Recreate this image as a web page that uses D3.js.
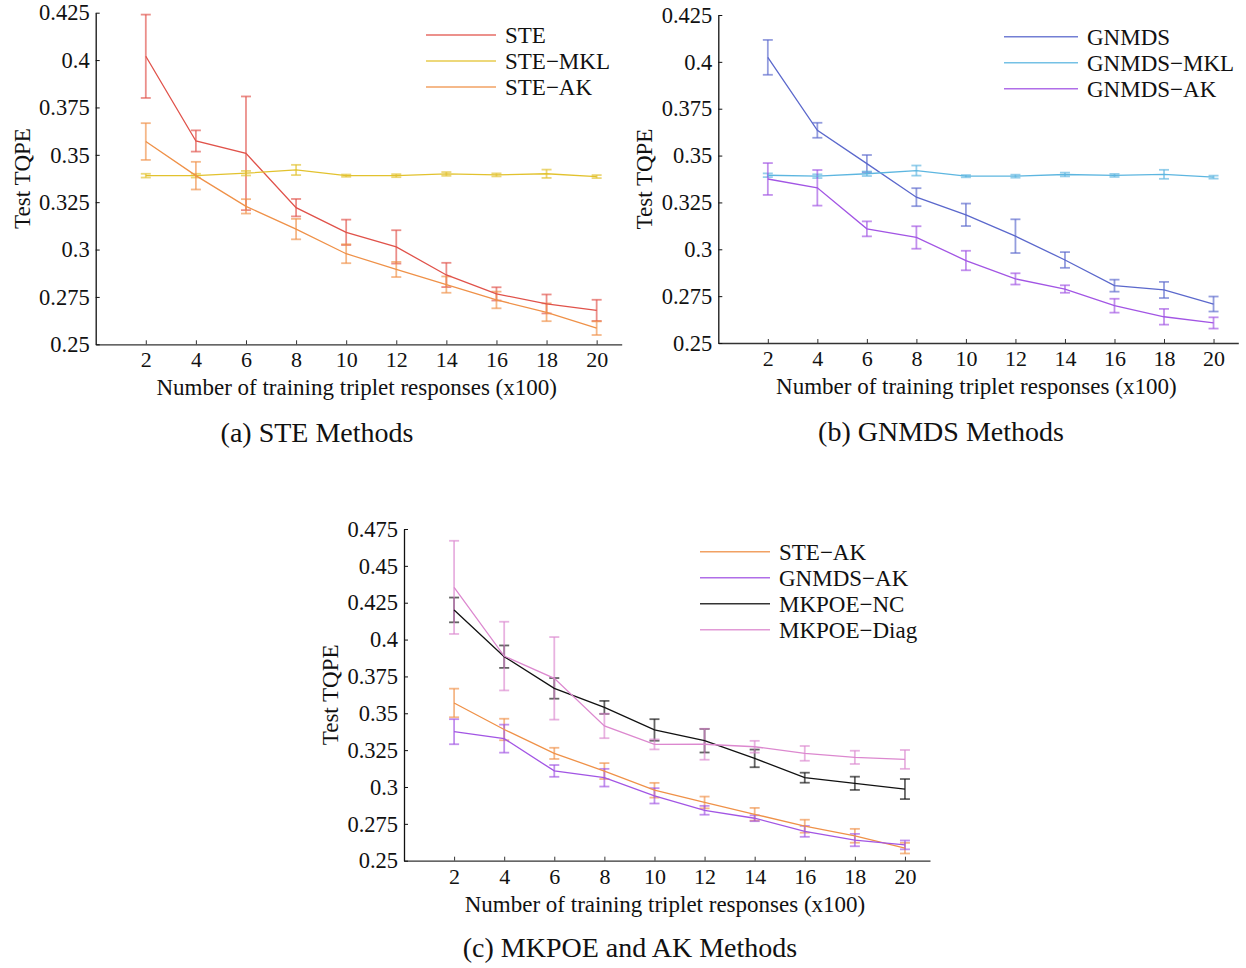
<!DOCTYPE html>
<html>
<head>
<meta charset="utf-8">
<script src="https://cdn.jsdelivr.net/npm/d3@7"></script>
<style>
	body { margin: 0; background: #fff; }
	svg { display: block; }
	text { font-family: 'Liberation Serif', 'Times New Roman', serif; fill: #111; }
</style>
</head>
<body>
<div id="chart"></div>
<script>
/* global d3 */

// x categories (x100 triplets)
var xs = [2, 4, 6, 8, 10, 12, 14, 16, 18, 20];

// (a) STE methods
var steMean    = [0.402, 0.3573, 0.3508, 0.3221, 0.3091, 0.3014, 0.2866, 0.2766, 0.2713, 0.2679];
var steErr     = [0.022, 0.0056, 0.030, 0.0046, 0.0067, 0.0088, 0.0064, 0.0035, 0.0050, 0.0056];
var steMklMean = [0.339, 0.339, 0.3403, 0.342, 0.339, 0.339, 0.3399, 0.3394, 0.340, 0.3385];
var steMklErr  = [0.0010, 0.0010, 0.0012, 0.0027, 0.0006, 0.0008, 0.0010, 0.0008, 0.0022, 0.0008];
var steAkMean  = [0.357, 0.339, 0.3228, 0.3108, 0.2978, 0.2895, 0.2815, 0.2734, 0.2669, 0.2585];
var steAkErr   = [0.0097, 0.0073, 0.0038, 0.0054, 0.0050, 0.0040, 0.0043, 0.0044, 0.0047, 0.0036];

// (b) GNMDS methods
var gnmdsMean    = [0.4024, 0.3635, 0.3457, 0.3278, 0.3184, 0.307, 0.2943, 0.2806, 0.2783, 0.2708];
var gnmdsErr     = [0.0093, 0.0040, 0.0046, 0.0048, 0.0060, 0.0090, 0.0042, 0.0032, 0.0043, 0.0040];
var gnmdsMklMean = [0.3395, 0.339, 0.3403, 0.342, 0.339, 0.339, 0.3399, 0.3394, 0.340, 0.3385];
var gnmdsMklErr  = [0.0010, 0.0010, 0.0012, 0.0027, 0.0006, 0.0008, 0.0010, 0.0008, 0.0024, 0.0008];
var gnmdsAkMean  = [0.3375, 0.3328, 0.3109, 0.3063, 0.294, 0.2842, 0.2788, 0.2699, 0.264, 0.2607];
var gnmdsAkErr   = [0.0085, 0.0095, 0.0040, 0.0060, 0.0052, 0.0030, 0.0020, 0.0037, 0.0042, 0.0030];

// (c) MKPOE
var mkpoeNcMean   = [0.4201, 0.3884, 0.3669, 0.354, 0.3387, 0.3314, 0.3194, 0.3063, 0.3025, 0.2986];
var mkpoeNcErr    = [0.0084, 0.0076, 0.0070, 0.0044, 0.0073, 0.0080, 0.0060, 0.0034, 0.0045, 0.0068];
var mkpoeDiagMean = [0.4354, 0.3888, 0.3737, 0.3414, 0.3289, 0.329, 0.3273, 0.3228, 0.3201, 0.3187];
var mkpoeDiagErr  = [0.0316, 0.0233, 0.0280, 0.0083, 0.0034, 0.0105, 0.0040, 0.0050, 0.0045, 0.0064];

// y tick labels
var yTicksAB = [0.25, 0.275, 0.3, 0.325, 0.35, 0.375, 0.4, 0.425];
var yTicksC  = [0.25, 0.275, 0.3, 0.325, 0.35, 0.375, 0.4, 0.425, 0.45, 0.475];

var colors = {
	ste: '#e0524a', steMkl: '#e2c22e', steAk: '#ef9148',
	gnmds: '#5b68cc', gnmdsMkl: '#5db6e0', gnmdsAk: '#a255e4',
	nc: '#111111', diag: '#dc88cf'
};

var svg = d3.select('#chart').append('svg')
	.attr('width', 1246)
	.attr('height', 968);

function fmt (d) {
	return String(parseFloat(d.toFixed(3)));
}

function drawPanel (p) {
	var x = d3.scaleLinear().domain([0, 21]).range([p.left, p.right]);
	var y = d3.scaleLinear().domain(p.yDomain).range([p.bottom, p.top]);
	var g = svg.append('g');

	// axes, ticks pointing inward
	g.append('g')
		.attr('transform', 'translate(0,' + p.bottom + ')')
		.call(d3.axisBottom(x).tickValues(xs).tickSize(-4).tickSizeOuter(0))
		.call(function (a) {
			a.select('.domain').attr('stroke', '#333').attr('stroke-width', 1.3);
			a.selectAll('.tick line').attr('stroke', '#333');
			a.selectAll('.tick text').attr('font-size', '22px').attr('dy', null).attr('y', 23);
		});

	g.append('g')
		.attr('transform', 'translate(' + p.left + ',0)')
		.call(d3.axisLeft(y).tickValues(p.yTicks).tickFormat(fmt).tickSize(-4).tickSizeOuter(0))
		.call(function (a) {
			a.select('.domain').attr('stroke', '#111').attr('stroke-width', 1.3);
			a.selectAll('.tick line').attr('stroke', '#111');
			a.selectAll('.tick text').attr('font-size', '22.5px').attr('x', -6);
		});

	g.append('text')
		.attr('transform', 'translate(' + (p.left - 66) + ',' + ((p.top + p.bottom) / 2) + ') rotate(-90)')
		.attr('text-anchor', 'middle')
		.attr('font-size', '23px')
		.text('Test TQPE');

	g.append('text')
		.attr('x', (p.left + p.right) / 2 - 2)
		.attr('y', p.bottom + 51)
		.attr('text-anchor', 'middle')
		.attr('font-size', '23px')
		.text('Number of training triplet responses (x100)');

	g.append('text')
		.attr('x', p.titleX)
		.attr('y', p.titleY)
		.attr('text-anchor', 'middle')
		.attr('font-size', '28px')
		.text(p.title);

	var line = d3.line()
		.x(function (d, i) { return x(xs[i]); })
		.y(function (d) { return y(d); });

	p.series.forEach(function (s) {
		var eb = g.append('g')
			.attr('stroke', s.color)
			.attr('stroke-width', 1.8)
			.attr('stroke-opacity', 0.65);
		s.mean.forEach(function (m, i) {
			var cx = x(xs[i]), y0 = y(m - s.err[i]), y1 = y(m + s.err[i]);
			eb.append('line').attr('x1', cx).attr('x2', cx).attr('y1', y0).attr('y2', y1);
			eb.append('line').attr('x1', cx - 5).attr('x2', cx + 5).attr('y1', y0).attr('y2', y0);
			eb.append('line').attr('x1', cx - 5).attr('x2', cx + 5).attr('y1', y1).attr('y2', y1);
		});
	});

	p.series.forEach(function (s) {
		g.append('path')
			.attr('d', line(s.mean))
			.attr('fill', 'none')
			.attr('stroke', s.color)
			.attr('stroke-width', 1.3);
	});

	// legend
	var lg = g.append('g').attr('transform', 'translate(' + p.legend.x + ',' + p.legend.y + ')');
	p.series.forEach(function (s, i) {
		lg.append('line')
			.attr('x1', 0).attr('x2', p.legend.len)
			.attr('y1', i * 26).attr('y2', i * 26)
			.attr('stroke', s.color)
			.attr('stroke-width', 1.5)
			.attr('stroke-opacity', 0.85);
		lg.append('text')
			.attr('x', p.legend.len + 9)
			.attr('y', i * 26 + 8)
			.attr('font-size', '23px')
			.text(s.name);
	});
}

drawPanel({
	left: 95.7, right: 621.7, top: 12.7, bottom: 344.3,
	yDomain: [0.25, 0.425], yTicks: yTicksAB,
	titleX: 317, titleY: 442, title: '(a) STE Methods',
	legend: { x: 426, y: 35, len: 70 },
	series: [
		{ name: 'STE', mean: steMean, err: steErr, color: colors.ste },
		{ name: 'STE\u2212MKL', mean: steMklMean, err: steMklErr, color: colors.steMkl },
		{ name: 'STE\u2212AK', mean: steAkMean, err: steAkErr, color: colors.steAk }
	]
});

drawPanel({
	left: 718.3, right: 1238.3, top: 15, bottom: 343,
	yDomain: [0.25, 0.425], yTicks: yTicksAB,
	titleX: 941, titleY: 441, title: '(b) GNMDS Methods',
	legend: { x: 1004, y: 36.7, len: 74 },
	series: [
		{ name: 'GNMDS', mean: gnmdsMean, err: gnmdsErr, color: colors.gnmds },
		{ name: 'GNMDS\u2212MKL', mean: gnmdsMklMean, err: gnmdsMklErr, color: colors.gnmdsMkl },
		{ name: 'GNMDS\u2212AK', mean: gnmdsAkMean, err: gnmdsAkErr, color: colors.gnmdsAk }
	]
});

drawPanel({
	left: 404, right: 930, top: 529, bottom: 860.7,
	yDomain: [0.25, 0.475], yTicks: yTicksC,
	titleX: 630, titleY: 957, title: '(c) MKPOE and AK Methods',
	legend: { x: 700, y: 551.7, len: 70 },
	series: [
		{ name: 'STE\u2212AK', mean: steAkMean, err: steAkErr, color: colors.steAk },
		{ name: 'GNMDS\u2212AK', mean: gnmdsAkMean, err: gnmdsAkErr, color: colors.gnmdsAk },
		{ name: 'MKPOE\u2212NC', mean: mkpoeNcMean, err: mkpoeNcErr, color: colors.nc },
		{ name: 'MKPOE\u2212Diag', mean: mkpoeDiagMean, err: mkpoeDiagErr, color: colors.diag }
	]
});
</script>
</body>
</html>
